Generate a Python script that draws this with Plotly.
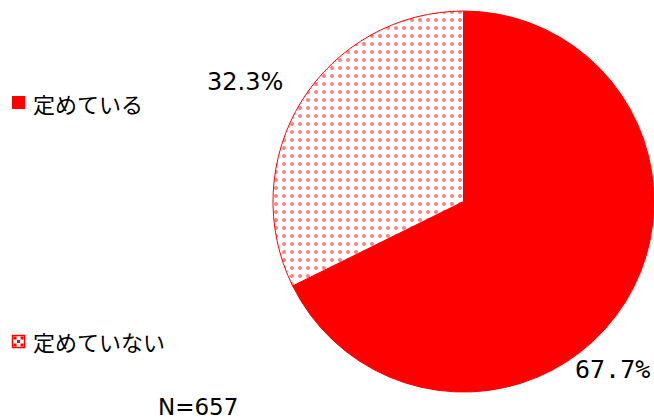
import plotly.graph_objects as go

labels = ["定めている", "定めていない"]
values = [67.7, 32.3]
n_label = "N=657"

fig = go.Figure()
fig.add_trace(go.Pie(
    labels=labels,
    values=values,
    sort=False,
    direction="clockwise",
    rotation=0,
    textinfo="none",
    hoverinfo="label+percent",
    showlegend=False,
    marker=dict(
        colors=["#ff0000", "#ffffff"],
        line=dict(color="#ff0000", width=1),
        pattern=dict(shape=["", "."], fgcolor="#ff0000", bgcolor="#ffffff",
                     size=8, solidity=0.2, fillmode="overlay"),
    ),
    domain=dict(x=[0.4174, 1.0], y=[0.062, 0.976]),
))

W, H = 654, 419
def px(x): return x / W
def py(y): return 1 - y / H

shapes = [
    dict(type="rect", xref="paper", yref="paper", x0=px(12), x1=px(25), y0=py(109), y1=py(96),
         fillcolor="#ff0000", line=dict(width=0)),
    dict(type="rect", xref="paper", yref="paper", x0=px(12.5), x1=px(24.5), y0=py(347.5), y1=py(335.5),
         fillcolor="#ffffff", line=dict(color="#ff0000", width=1.5)),
]
for (cx, cy) in [(15, 338), (22, 338), (15, 345), (22, 345), (18.5, 341.5)]:
    shapes.append(dict(type="rect", xref="paper", yref="paper",
                       x0=px(cx - 1.5), x1=px(cx + 1.5), y0=py(cy + 1.5), y1=py(cy - 1.5),
                       fillcolor="#ff0000", line=dict(width=0)))

font_cjk = dict(family="Noto Sans CJK JP", size=22, color="#000000")
font_num = dict(family="DejaVu Sans", size=23, color="#000000")
annotations = [
    dict(text=labels[0], x=px(31), y=py(103), xref="paper", yref="paper",
         xanchor="left", yanchor="middle", showarrow=False, font=font_cjk),
    dict(text=labels[1], x=px(31), y=py(341), xref="paper", yref="paper",
         xanchor="left", yanchor="middle", showarrow=False, font=font_cjk),
    dict(text=f"{values[1]}%", x=px(245), y=py(82), xref="paper", yref="paper",
         xanchor="center", yanchor="middle", showarrow=False,
         font=dict(family="DejaVu Sans", size=24, color="#000000")),
    dict(text=f"{values[0]}%", x=px(612), y=py(369), xref="paper", yref="paper",
         xanchor="center", yanchor="middle", showarrow=False,
         font=dict(family="DejaVu Sans Mono", size=25, color="#000000")),
    dict(text=n_label, x=px(198), y=py(407), xref="paper", yref="paper",
         xanchor="center", yanchor="middle", showarrow=False, font=font_num),
]

fig.update_layout(
    width=W, height=H,
    margin=dict(l=0, r=0, t=0, b=0),
    paper_bgcolor="#ffffff", plot_bgcolor="#ffffff",
    shapes=shapes, annotations=annotations,
)
fig.write_html("out.html")
